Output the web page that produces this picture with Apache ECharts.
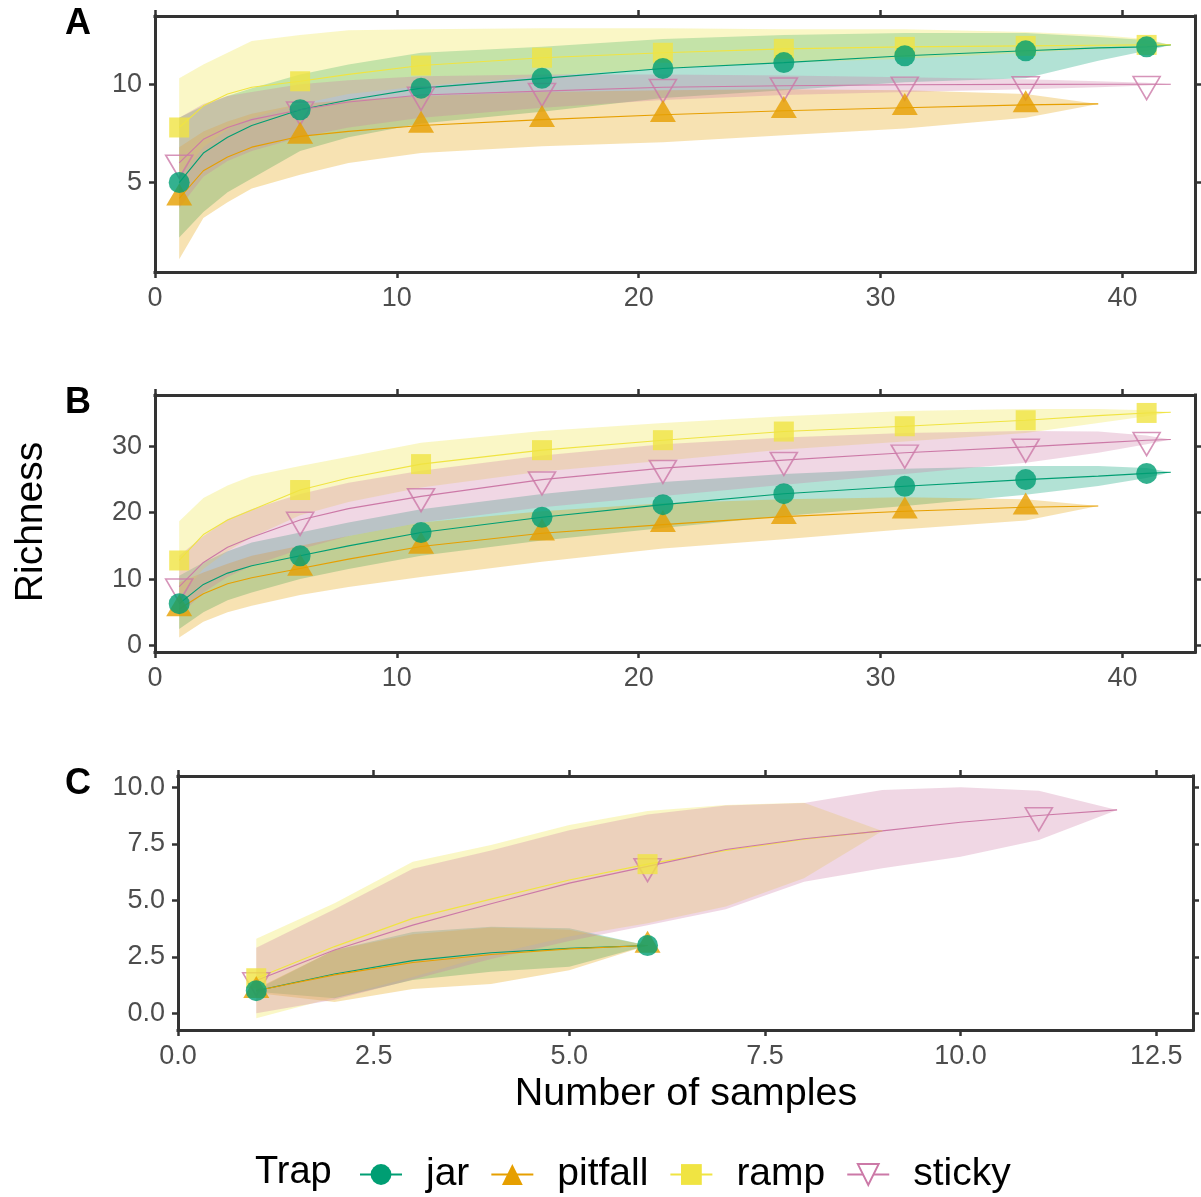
<!DOCTYPE html>
<html>
<head>
<meta charset="utf-8">
<script src="https://cdn.jsdelivr.net/npm/echarts@6/dist/echarts.min.js"></script>
<style>
html,body{margin:0;padding:0;background:#fff;}
#chart{width:1201px;height:1197px;}
</style>
</head>
<body>
<div id="chart"></div>
<script>
// ---------------- DATA ----------------
const trapNames = ['jar', 'pitfall', 'ramp', 'sticky'];

// Panels A and B: sample counts at which values were read
const xAB = [1, 2, 3, 4, 6, 8, 11, 16, 21, 26, 31, 36, 39, 41, 42];
const xPitAB = [1, 2, 3, 4, 6, 8, 11, 16, 21, 26, 31, 36, 39];

// Panel A
const aJarMean = [5.0, 6.5, 7.3, 7.9, 8.7, 9.2, 9.8, 10.3, 10.8, 11.1, 11.45, 11.7, 11.85, 11.9, 12.0];
const aJarLo   = [2.2, 3.5, 4.5, 5.2, 6.6, 7.3, 8.0, 8.6, 9.3, 9.7, 10.1, 10.3, 11.2, 11.7, 12.0];
const aJarHi   = [8.3, 8.9, 9.4, 9.8, 10.5, 11.0, 11.6, 11.9, 12.3, 12.5, 12.6, 12.6, 12.4, 12.25, 12.0];
const aPitMean = [4.2, 5.6, 6.3, 6.8, 7.35, 7.6, 7.9, 8.2, 8.45, 8.65, 8.8, 8.95, 9.0];
const aPitLo   = [1.1, 3.2, 4.0, 4.7, 5.4, 6.0, 6.5, 6.85, 7.05, 7.4, 7.75, 8.3, 9.0];
const aPitHi   = [6.8, 7.6, 8.1, 8.5, 9.0, 9.2, 9.4, 9.6, 9.7, 9.75, 9.7, 9.5, 9.0];
const aRampMean = [7.8, 8.9, 9.5, 9.85, 10.15, 10.5, 10.95, 11.35, 11.6, 11.8, 11.9, 11.95, 11.98, 12.0, 12.0];
const aRampLo   = [5.3, 6.8, 7.7, 8.3, 9.0, 9.5, 9.9, 10.4, 10.8, 11.1, 11.3, 11.6, 11.8, 11.9, 12.0];
const aRampHi   = [10.3, 11.0, 11.6, 12.2, 12.5, 12.75, 12.8, 12.85, 12.85, 12.8, 12.8, 12.65, 12.5, 12.3, 12.0];
const aStickyMean = [6.0, 7.2, 7.8, 8.2, 8.7, 9.1, 9.45, 9.65, 9.85, 9.92, 9.97, 9.99, 10.0, 10.0, 10.0];
const aStickyLo   = [3.7, 5.3, 6.1, 6.6, 7.3, 7.8, 8.3, 8.8, 9.2, 9.45, 9.6, 9.75, 9.85, 9.93, 10.0];
const aStickyHi   = [8.3, 9.0, 9.4, 9.6, 10.0, 10.2, 10.4, 10.5, 10.5, 10.45, 10.35, 10.25, 10.15, 10.08, 10.0];

// Panel B
const bJarMean = [6.3, 9.2, 10.9, 12.0, 13.5, 15.0, 17.0, 19.3, 21.2, 22.85, 23.96, 24.97, 25.5, 25.9, 26.07];
const bJarLo   = [2.5, 5.0, 6.8, 8.0, 10.0, 11.5, 13.5, 15.8, 17.7, 19.5, 21.0, 22.7, 24.0, 25.2, 26.07];
const bJarHi   = [10.5, 12.5, 14.2, 15.5, 17.0, 18.5, 20.5, 22.8, 24.6, 25.8, 26.6, 27.0, 27.0, 26.7, 26.07];
const bPitMean = [5.5, 7.8, 9.3, 10.2, 11.6, 13.0, 14.9, 16.9, 18.2, 19.4, 20.2, 20.8, 21.0];
const bPitLo   = [1.2, 3.6, 5.0, 6.0, 7.6, 8.8, 10.3, 12.6, 14.6, 16.0, 17.5, 18.8, 21.0];
const bPitHi   = [9.5, 11.0, 12.3, 13.5, 15.0, 16.5, 18.5, 20.2, 21.4, 22.0, 22.3, 22.0, 21.0];
const bRampMean = [12.8, 16.7, 18.9, 20.4, 23.4, 25.2, 27.3, 29.4, 30.9, 32.2, 33.0, 33.9, 34.6, 35.0, 35.1];
const bRampLo   = [7.3, 11.5, 14.2, 16.3, 19.6, 21.6, 23.8, 26.2, 27.8, 29.5, 30.7, 32.0, 33.5, 34.5, 35.1];
const bRampHi   = [18.7, 22.2, 24.1, 25.5, 27.0, 28.4, 30.5, 32.3, 33.5, 34.5, 35.3, 35.6, 35.6, 35.4, 35.1];
const bStickyMean = [8.85, 12.5, 14.8, 16.3, 18.9, 20.6, 22.45, 24.97, 26.7, 27.9, 29.0, 29.9, 30.5, 30.9, 31.0];
const bStickyLo   = [4.5, 8.0, 10.3, 12.0, 14.5, 16.5, 18.5, 20.8, 22.5, 24.2, 25.8, 27.5, 29.0, 30.3, 31.0];
const bStickyHi   = [13.5, 16.5, 19.0, 20.5, 22.8, 24.5, 26.3, 28.6, 30.3, 31.3, 32.0, 32.3, 32.2, 31.6, 31.0];

// Panel C
const xJarC = [1, 2, 3, 4, 5, 6];
const xPitC = [1, 2, 3, 4, 5, 6];
const xRampC = [1, 2, 3, 4, 5, 6, 7, 8, 9];
const xStickyC = [1, 2, 3, 4, 5, 6, 7, 8, 9, 10, 11, 12];
const cJarMean = [1.0, 1.74, 2.33, 2.68, 2.87, 3.0];
const cJarLo   = [0.95, 0.66, 1.47, 1.84, 2.06, 3.0];
const cJarHi   = [1.05, 2.8, 3.6, 3.83, 3.76, 3.0];
const cPitMean = [1.0, 1.7, 2.25, 2.6, 2.85, 3.0];
const cPitLo   = [0.9, 0.5, 1.07, 1.3, 1.9, 3.0];
const cPitHi   = [1.1, 2.8, 3.5, 3.8, 3.7, 3.0];
const cRampMean = [1.55, 2.95, 4.2, 5.05, 5.9, 6.6, 7.2, 7.7, 8.07];
const cRampLo   = [-0.22, 0.7, 1.6, 2.6, 3.4, 3.98, 4.72, 5.97, 8.07];
const cRampHi   = [3.3, 4.87, 6.7, 7.45, 8.33, 8.95, 9.22, 9.32, 8.07];
const cStickyMean = [1.45, 2.8, 3.9, 4.85, 5.76, 6.5, 7.25, 7.72, 8.07, 8.45, 8.75, 9.0];
const cStickyLo   = [0.0, 0.6, 1.5, 2.4, 3.2, 3.9, 4.6, 5.82, 6.42, 6.93, 7.67, 9.0];
const cStickyHi   = [2.9, 4.6, 6.4, 7.2, 8.1, 8.8, 9.2, 9.3, 9.88, 10.0, 9.85, 9.0];

// Tick labels
const xTicksAB = [0, 10, 20, 30, 40];
const yTicksA = [5, 10];
const yTicksB = [0, 10, 20, 30];
const xTicksC = [0, 2.5, 5, 7.5, 10, 12.5];
const yTicksC = [0, 2.5, 5, 7.5, 10];

const panelLabels = ['A', 'B', 'C'];
const yTitle = 'Richness';
const xTitle = 'Number of samples';
const legendTitle = 'Trap';

// ---------------- STYLE ----------------
const FONT = "'Liberation Sans', Arial, Helvetica, sans-serif";
const COLORS = { jar: '#009E73', pitfall: '#E69F00', ramp: '#F0E442', sticky: '#CC79A7' };
const AXIS_COLOR = '#333333';
const TICK_LABEL_COLOR = '#4D4D4D';

function rgba(hex, a) {
  const n = parseInt(hex.slice(1), 16);
  return 'rgba(' + ((n >> 16) & 255) + ',' + ((n >> 8) & 255) + ',' + (n & 255) + ',' + a + ')';
}

const panels = [
  {
    grid: { left: 155, top: 16, width: 1040, height: 256 },
    xMin: 0, xMax: 43, yMin: 0.45, yMax: 13.47,
    xTicks: xTicksAB, yTicks: yTicksA, xFmt: v => String(v), yFmt: v => String(v),
    traps: {
      jar: { x: xAB, mean: aJarMean, lo: aJarLo, hi: aJarHi },
      pitfall: { x: xPitAB, mean: aPitMean, lo: aPitLo, hi: aPitHi },
      ramp: { x: xAB, mean: aRampMean, lo: aRampLo, hi: aRampHi },
      sticky: { x: xAB, mean: aStickyMean, lo: aStickyLo, hi: aStickyHi }
    }
  },
  {
    grid: { left: 155, top: 395, width: 1040, height: 257 },
    xMin: 0, xMax: 43, yMin: -0.97, yMax: 37.7,
    xTicks: xTicksAB, yTicks: yTicksB, xFmt: v => String(v), yFmt: v => String(v),
    traps: {
      jar: { x: xAB, mean: bJarMean, lo: bJarLo, hi: bJarHi },
      pitfall: { x: xPitAB, mean: bPitMean, lo: bPitLo, hi: bPitHi },
      ramp: { x: xAB, mean: bRampMean, lo: bRampLo, hi: bRampHi },
      sticky: { x: xAB, mean: bStickyMean, lo: bStickyLo, hi: bStickyHi }
    }
  },
  {
    grid: { left: 178, top: 776, width: 1015, height: 254 },
    xMin: 0, xMax: 12.97, yMin: -0.74, yMax: 10.5,
    xTicks: xTicksC, yTicks: yTicksC, xFmt: v => v.toFixed(1), yFmt: v => v.toFixed(1),
    traps: {
      jar: { x: xJarC, mean: cJarMean, lo: cJarLo, hi: cJarHi },
      pitfall: { x: xPitC, mean: cPitMean, lo: cPitLo, hi: cPitHi },
      ramp: { x: xRampC, mean: cRampMean, lo: cRampLo, hi: cRampHi },
      sticky: { x: xStickyC, mean: cStickyMean, lo: cStickyLo, hi: cStickyHi }
    }
  }
];

const markerStyle = {
  jar: { symbol: 'circle', symbolSize: 21, symbolOffset: [0, 0], itemStyle: { color: COLORS.jar } },
  pitfall: { symbol: 'triangle', symbolSize: [26, 22], symbolOffset: [0, -3.7], itemStyle: { color: COLORS.pitfall } },
  ramp: { symbol: 'rect', symbolSize: [20, 20], symbolOffset: [0, 0], itemStyle: { color: COLORS.ramp } },
  sticky: { symbol: 'path://M0,0L2,0L1,1.732Z', symbolSize: [27, 23], symbolOffset: [0, 3.8],
            itemStyle: { color: 'rgba(0,0,0,0)', borderColor: COLORS.sticky, borderWidth: 1.6 } }
};
const legendSymbol = { jar: 'circle', pitfall: 'triangle', ramp: 'rect', sticky: 'emptyTriangle' };
const legendRotate = { jar: 0, pitfall: 0, ramp: 0, sticky: 180 };

// ---------------- AXES ----------------
const xAxes = [], yAxes = [], grids = [];
const axisLineStyle = { color: AXIS_COLOR, width: 3, cap: 'square' };
const tickStyle = { color: AXIS_COLOR, width: 2.5 };
const labelFont = { color: TICK_LABEL_COLOR, fontSize: 27, fontFamily: FONT, margin: 13 };

panels.forEach((p, gi) => {
  grids.push(Object.assign({ containLabel: false }, p.grid));
  const common = { type: 'value', gridIndex: gi, splitLine: { show: false } };
  xAxes.push(Object.assign({}, common, {
    position: 'bottom', min: p.xMin, max: p.xMax,
    axisLine: { show: true, onZero: false, lineStyle: axisLineStyle },
    axisTick: { show: true, length: 6, lineStyle: tickStyle, customValues: p.xTicks },
    axisLabel: Object.assign({ show: true, customValues: p.xTicks, formatter: p.xFmt }, labelFont)
  }));
  xAxes.push(Object.assign({}, common, {
    position: 'top', min: p.xMin, max: p.xMax,
    axisLine: { show: true, onZero: false, lineStyle: axisLineStyle },
    axisTick: { show: true, length: 6, lineStyle: tickStyle, customValues: p.xTicks },
    axisLabel: { show: false }
  }));
  yAxes.push(Object.assign({}, common, {
    position: 'left', min: p.yMin, max: p.yMax,
    axisLine: { show: true, onZero: false, lineStyle: axisLineStyle },
    axisTick: { show: true, length: 6, lineStyle: tickStyle, customValues: p.yTicks },
    axisLabel: Object.assign({ show: true, customValues: p.yTicks, formatter: p.yFmt }, labelFont)
  }));
  yAxes.push(Object.assign({}, common, {
    position: 'right', min: p.yMin, max: p.yMax,
    axisLine: { show: true, onZero: false, lineStyle: axisLineStyle },
    axisTick: { show: true, length: 6, lineStyle: tickStyle, customValues: p.yTicks },
    axisLabel: { show: false }
  }));
});

// ---------------- SERIES ----------------
const series = [];
// legend-bearing mean lines first (panel A), so the legend takes their icons
panels.forEach((p, gi) => {
  trapNames.forEach(name => {
    const t = p.traps[name];
    series.push({
      type: 'line',
      name: gi === 0 ? name : name + '-line-' + gi,
      xAxisIndex: gi * 2, yAxisIndex: gi * 2,
      data: t.x.map((x, i) => [x, t.mean[i]]),
      symbol: legendSymbol[name], symbolRotate: legendRotate[name], showSymbol: false,
      lineStyle: { color: COLORS[name], width: 1.1 },
      itemStyle: { color: COLORS[name] },
      z: 3, silent: true
    });
  });
});
// ribbons
panels.forEach((p, gi) => {
  trapNames.forEach(name => {
    const t = p.traps[name];
    const fill = rgba(COLORS[name], 0.3);
    series.push({
      type: 'custom',
      name: name + '-band-' + gi,
      xAxisIndex: gi * 2, yAxisIndex: gi * 2,
      data: t.x.map((x, i) => [x, t.lo[i], t.hi[i]]),
      encode: { x: 0, y: [1, 2] },
      renderItem: function (params, api) {
        if (params.dataIndex !== 0) return null;
        const pts = [];
        for (let i = 0; i < t.x.length; i++) pts.push(api.coord([t.x[i], t.hi[i]]));
        for (let i = t.x.length - 1; i >= 0; i--) pts.push(api.coord([t.x[i], t.lo[i]]));
        return { type: 'polygon', shape: { points: pts }, style: { fill: fill, stroke: null } };
      },
      z: 1, silent: true
    });
  });
});
// markers (every 5 samples starting at 1), drawn sticky, ramp, pitfall, jar
['sticky', 'ramp', 'pitfall', 'jar'].forEach(name => {
  panels.forEach((p, gi) => {
    const t = p.traps[name];
    const pts = [];
    t.x.forEach((x, i) => { if ((x - 1) % 5 === 0) pts.push([x, t.mean[i]]); });
    series.push(Object.assign({
      type: 'scatter',
      name: name + '-pts-' + gi,
      xAxisIndex: gi * 2, yAxisIndex: gi * 2,
      data: pts, z: 5, silent: true
    }, markerStyle[name]));
  });
});

// ---------------- TEXT ----------------
const graphic = [];
panels.forEach((p, gi) => {
  graphic.push({
    type: 'text', left: 65, top: p.grid.top - 10,
    style: { text: panelLabels[gi], font: 'bold 36px ' + FONT, fill: '#000' }
  });
});
graphic.push({
  type: 'text', x: 31, y: 522, rotation: Math.PI / 2,
  style: { text: yTitle, font: '39px ' + FONT, fill: '#000', align: 'center', verticalAlign: 'middle' }
});
graphic.push({
  type: 'text', x: 686, y: 1094,
  style: { text: xTitle, font: '39.5px ' + FONT, fill: '#000', align: 'center', verticalAlign: 'middle' }
});
graphic.push({
  type: 'text', x: 255, y: 1173,
  style: { text: legendTitle, font: '38px ' + FONT, fill: '#000', align: 'left', verticalAlign: 'middle' }
});

const chart = echarts.init(document.getElementById('chart'), null, { renderer: 'canvas' });
chart.setOption({
  backgroundColor: '#ffffff',
  animation: false,
  grid: grids,
  xAxis: xAxes,
  yAxis: yAxes,
  legend: {
    data: trapNames,
    left: 354, top: 1150,
    orient: 'horizontal',
    itemWidth: 42, itemHeight: 26, itemGap: 21,
    lineStyle: { width: 2 },
    textStyle: { fontSize: 39, fontFamily: FONT, color: '#000', padding: [0, 0, 0, 19] },
    selectedMode: false
  },
  graphic: graphic,
  series: series
});
</script>
</body>
</html>
